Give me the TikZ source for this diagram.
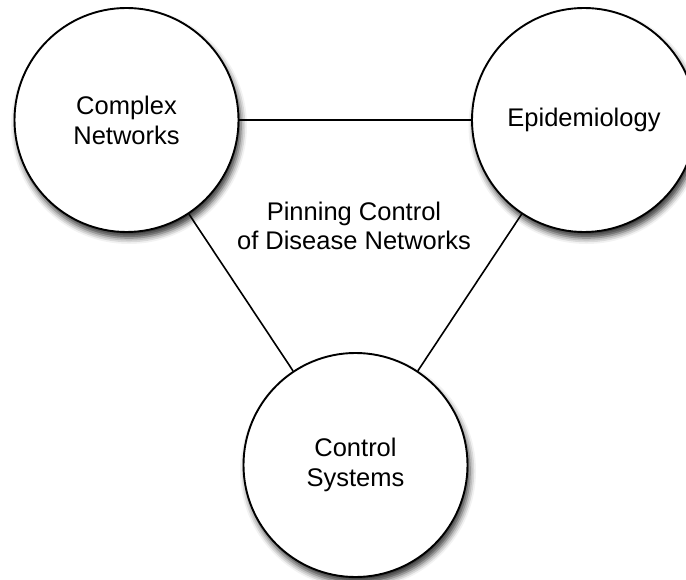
\documentclass[tikz,border=0pt]{standalone}
\usepackage{fontspec}
\setmainfont{Liberation Sans}
\usetikzlibrary{shadows.blur}
\begin{document}
\begin{tikzpicture}[x=1pt,y=-1pt,
  topic/.style={circle, draw=black, line width=1.9pt, fill=white,
    minimum size=224pt, inner sep=0pt, align=center,
    font=\fontsize{25.5}{30}\selectfont,
    blur shadow={shadow xshift=2.5pt, shadow yshift=-6pt,
      shadow blur radius=6pt, shadow opacity=80}},
  caption/.style={align=center, font=\fontsize{25.5}{29}\selectfont},
  link/.style={line width=1.6pt}]
\useasboundingbox (0,0) rectangle (686,580);
\clip (0,0) rectangle (686,580);
% the three fields
\node[topic] (cn) at (126.5,120) {Complex\\Networks};
\node[topic] (ep) at (584,120) {Epidemiology};
\node[topic] (cs) at (355.5,465) {Control\\Systems};
% links between the fields
\draw[link] (cn) -- (ep);
\draw[link] (cn) -- (cs);
\draw[link] (ep) -- (cs);
% central topic
\node[caption] (pc) at (354,226) {Pinning Control\\of Disease Networks};
\end{tikzpicture}
\end{document}
